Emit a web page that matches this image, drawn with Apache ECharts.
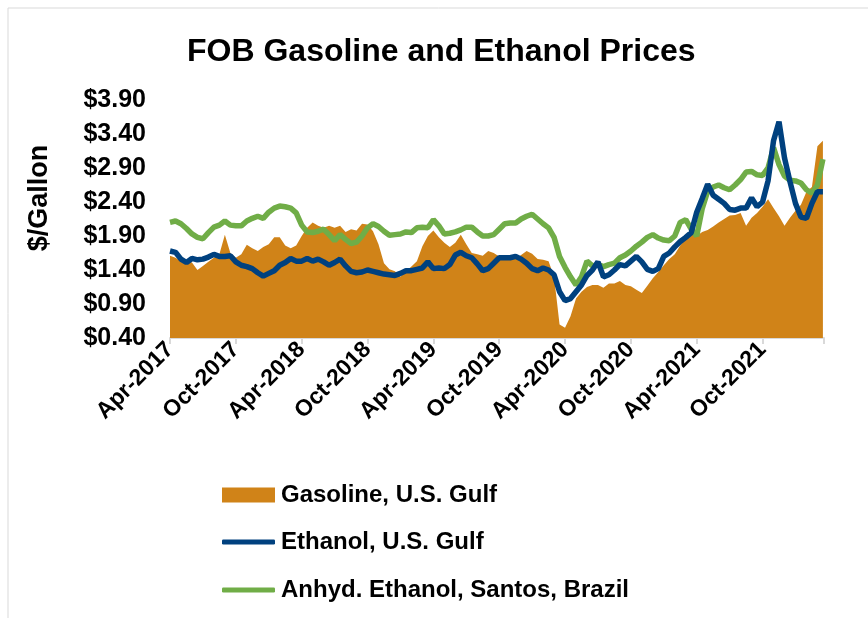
<!DOCTYPE html>
<html>
<head>
<meta charset="utf-8">
<script src="https://cdn.jsdelivr.net/npm/echarts@6/dist/echarts.min.js"></script>
<style>
  html, body { margin: 0; padding: 0; background: #fff; }
  #chart { width: 868px; height: 618px; }
</style>
</head>
<body>
<div id="chart"></div>
<script>
// months since Apr-2017, half-month steps
let months = [];
for (let i = 0; i < 120; i++) {
    months.push(i / 2);
}

let tickLabels = ["Apr-2017", "Oct-2017", "Apr-2018", "Oct-2018", "Apr-2019",
    "Oct-2019", "Apr-2020", "Oct-2020", "Apr-2021", "Oct-2021"];

let gasoline = [
    1.61, 1.58, 1.53, 1.54, 1.51, 1.40, 1.46, 1.52, 1.58, 1.63,
    1.92, 1.65, 1.58, 1.63, 1.77, 1.72, 1.68, 1.74, 1.78, 1.88,
    1.88, 1.76, 1.72, 1.76, 1.90, 2.02, 2.10, 2.05, 2.02, 2.05,
    2.02, 2.05, 1.96, 2.00, 1.98, 2.08, 2.07, 1.97, 1.78, 1.50,
    1.41, 1.38, 1.30, 1.38, 1.45, 1.53, 1.75, 1.90, 1.98, 1.88,
    1.80, 1.74, 1.80, 1.92, 1.78, 1.65, 1.63, 1.61, 1.68, 1.65,
    1.60, 1.58, 1.60, 1.56, 1.62, 1.68, 1.64, 1.56, 1.55, 1.53,
    1.30, 0.60, 0.55, 0.72, 0.98, 1.08, 1.15, 1.18, 1.18, 1.14,
    1.20, 1.20, 1.24, 1.18, 1.16, 1.11, 1.06, 1.17, 1.28, 1.37,
    1.47, 1.56, 1.63, 1.76, 1.86, 1.98, 1.90, 1.96, 1.99, 2.04,
    2.10, 2.15, 2.20, 2.21, 2.24, 2.05, 2.17, 2.24, 2.33, 2.44,
    2.31, 2.19, 2.05, 2.17, 2.27, 2.36, 2.55, 2.62, 3.22, 3.30
];

let ethanolUS = [
    1.68, 1.66, 1.56, 1.51, 1.57, 1.55, 1.56, 1.59, 1.63, 1.60,
    1.60, 1.61, 1.52, 1.47, 1.45, 1.42, 1.36, 1.31, 1.35, 1.39,
    1.47, 1.51, 1.57, 1.53, 1.53, 1.57, 1.53, 1.56, 1.52, 1.47,
    1.51, 1.56, 1.46, 1.38, 1.36, 1.37, 1.40, 1.38, 1.36, 1.34,
    1.33, 1.32, 1.35, 1.39, 1.39, 1.41, 1.43, 1.52, 1.42, 1.43,
    1.42, 1.48, 1.62, 1.66, 1.61, 1.58, 1.49, 1.39, 1.42, 1.50,
    1.58, 1.58, 1.58, 1.60, 1.56, 1.50, 1.42, 1.39, 1.43, 1.40,
    1.33, 1.08, 0.95, 0.98, 1.08, 1.18, 1.32, 1.40, 1.52, 1.30,
    1.33, 1.40, 1.48, 1.46, 1.53, 1.60, 1.52, 1.41, 1.38, 1.42,
    1.60, 1.65, 1.74, 1.82, 1.88, 1.95, 2.25, 2.45, 2.66, 2.50,
    2.44, 2.38, 2.29, 2.28, 2.31, 2.31, 2.46, 2.33, 2.40, 2.71,
    3.30, 3.58, 3.05, 2.70, 2.38, 2.18, 2.16, 2.38, 2.55, 2.55
];

let ethanolBrazil = [
    2.10, 2.12, 2.08, 2.01, 1.93, 1.88, 1.86, 1.95, 2.03, 2.06,
    2.12, 2.06, 2.05, 2.05, 2.12, 2.16, 2.19, 2.16, 2.25, 2.31,
    2.34, 2.33, 2.31, 2.24, 2.06, 1.96, 1.95, 1.97, 2.00, 1.92,
    1.83, 1.92, 1.85, 1.79, 1.81, 1.90, 2.02, 2.08, 2.04, 1.97,
    1.91, 1.92, 1.93, 1.96, 1.95, 2.02, 2.03, 2.02, 2.14, 2.05,
    1.93, 1.94, 1.96, 1.99, 2.03, 2.03, 1.96, 1.90, 1.90, 1.92,
    2.00, 2.08, 2.09, 2.09, 2.15, 2.19, 2.22, 2.15, 2.08, 2.02,
    1.88, 1.60, 1.44, 1.30, 1.18, 1.30, 1.53, 1.46, 1.48, 1.45,
    1.48, 1.50, 1.58, 1.62, 1.68, 1.75, 1.81, 1.88, 1.92, 1.87,
    1.84, 1.83, 1.90, 2.10, 2.14, 2.00, 1.90, 2.30, 2.56, 2.62,
    2.65, 2.61, 2.58, 2.65, 2.73, 2.84, 2.85, 2.80, 2.79, 2.90,
    3.20, 2.95, 2.78, 2.72, 2.71, 2.68, 2.58, 2.53, 2.65, 3.03
];

function pairs(xs, ys) {
    return xs.map((x, i) => [x, ys[i]]);
}

let chart = echarts.init(document.getElementById("chart"));
let font = "'Liberation Sans', Arial, sans-serif";
let legendText = {
    fontFamily: font,
    fontWeight: "bold",
    fontSize: 24,
    color: "#000",
    padding: [0, 0, 0, 1]
};
let option = {
    backgroundColor: "#fff",
    animation: false,
    title: {
        text: "FOB Gasoline and Ethanol Prices",
        left: 182,
        top: 31,
        textStyle: {
            fontFamily: font,
            fontWeight: "bold",
            fontSize: 32,
            color: "#000"
        }
    },
    graphic: [
        {
            type: "rect",
            shape: {x: 8, y: 8, width: 900, height: 700},
            style: {fill: "none", stroke: "#d9d9d9", lineWidth: 1},
            silent: true
        },
        {
            type: "text",
            x: 40,
            y: 198,
            rotation: Math.PI / 2,
            style: {
                text: "$/Gallon",
                font: "bold 27px 'Liberation Sans', Arial, sans-serif",
                fill: "#000",
                align: "center",
                verticalAlign: "middle"
            }
        }
    ],
    grid: {
        left: 170,
        right: 44,
        top: 100,
        bottom: 280
    },
    legend: [
        {
            orient: "vertical",
            left: 217,
            top: 478,
            itemWidth: 53,
            itemHeight: 15,
            icon: "rect",
            textStyle: legendText,
            data: ["Gasoline, U.S. Gulf"]
        },
        {
            orient: "vertical",
            left: 217,
            top: 525,
            itemWidth: 53,
            itemHeight: 5,
            itemGap: 24,
            icon: "roundRect",
            textStyle: legendText,
            data: ["Ethanol, U.S. Gulf", "Anhyd. Ethanol, Santos, Brazil"]
        }
    ],
    xAxis: {
        type: "value",
        min: 0,
        max: 59.6,
        interval: 6,
        splitLine: {show: false},
        axisLine: {lineStyle: {color: "#d9d9d9", width: 2}},
        axisTick: {show: true, length: 6, lineStyle: {color: "#d9d9d9", width: 2}},
        axisLabel: {
            rotate: 45,
            margin: 8,
            fontFamily: font,
            fontWeight: "bold",
            fontSize: 23,
            color: "#000",
            formatter: function (v) {
                return tickLabels[Math.round(v / 6)] || "";
            }
        }
    },
    yAxis: {
        type: "value",
        min: 0.4,
        max: 3.9,
        interval: 0.5,
        splitLine: {show: false},
        axisLine: {show: false},
        axisTick: {show: false},
        axisLabel: {
            margin: 24,
            fontFamily: font,
            fontWeight: "bold",
            fontSize: 25,
            color: "#000",
            formatter: function (v) {
                return "$" + v.toFixed(2);
            }
        }
    },
    series: [
        {
            name: "Gasoline, U.S. Gulf",
            type: "line",
            data: pairs(months, gasoline),
            symbol: "none",
            color: "#d08318",
            lineStyle: {width: 0},
            areaStyle: {color: "#d08318", opacity: 1},
            z: 1
        },
        {
            name: "Ethanol, U.S. Gulf",
            type: "line",
            data: pairs(months, ethanolUS),
            symbol: "none",
            color: "#00417f",
            lineStyle: {width: 5.5, color: "#00417f"},
            z: 3
        },
        {
            name: "Anhyd. Ethanol, Santos, Brazil",
            type: "line",
            data: pairs(months, ethanolBrazil),
            symbol: "none",
            color: "#70ad47",
            lineStyle: {width: 5.5, color: "#70ad47"},
            z: 2
        }
    ]
};
chart.setOption(option);
</script>
</body>
</html>
